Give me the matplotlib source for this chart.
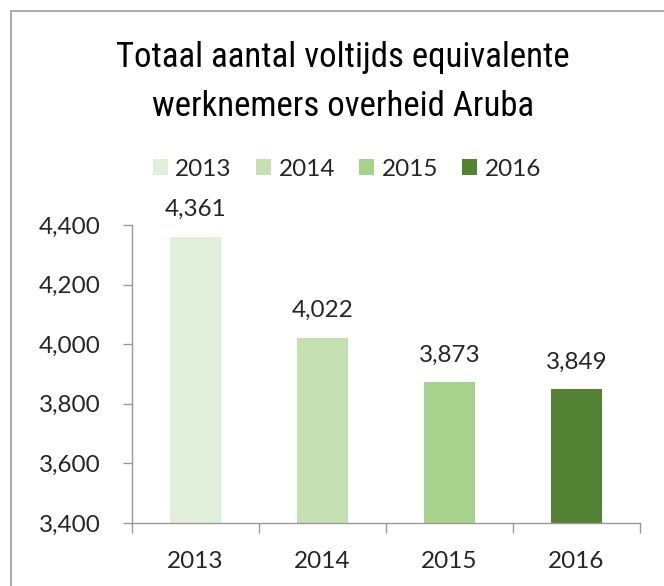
import matplotlib.pyplot as plt
from matplotlib import font_manager
from matplotlib.patches import Rectangle
from matplotlib.ticker import FuncFormatter, FixedLocator

years = ["2013", "2014", "2015", "2016"]
values = [4361, 4022, 3873, 3849]
colors = ["#e2efda", "#c6e0b4", "#a9d18e", "#548235"]
yticks = [3400, 3600, 3800, 4000, 4200, 4400]

plt.rcParams['font.family'] = ['Lato', 'DejaVu Sans']

# narrow font for the title, if one is installed
names = {f.name for f in font_manager.fontManager.ttflist}
title_font = "Liberation Sans"
title_size = 21
for cand in ["Liberation Sans Narrow", "Arial Narrow", "Roboto Condensed",
             "Open Sans Condensed", "DejaVu Sans Condensed"]:
    if cand in names:
        title_font = cand
        title_size = 25
        break

fig = plt.figure(figsize=(6.64, 5.86), dpi=100)
ax = fig.add_axes([132 / 664, 63 / 586, 508 / 664, 298 / 586])

x = list(range(len(years)))
bars = ax.bar(x, values, width=0.4, color=colors, label=years, zorder=2)

for xi, v in zip(x, values):
    ax.annotate(f"{v:,}", (xi, v), xytext=(0, 12), textcoords="offset points",
                ha="center", va="bottom", fontsize=17.5, color="#262626")

ax.set_ylim(3400, 4400)
ax.set_xlim(-0.5, 3.5)
ax.set_yticks(yticks)
ax.yaxis.set_major_formatter(FuncFormatter(lambda v, p: f"{int(v):,}"))
ax.set_xticks(x)
ax.set_xticklabels(years)
ax.xaxis.set_minor_locator(FixedLocator([-0.5, 0.5, 1.5, 2.5, 3.5]))

for s in ["top", "right"]:
    ax.spines[s].set_visible(False)
for s in ["left", "bottom"]:
    ax.spines[s].set_color("#999999")
    ax.spines[s].set_linewidth(1)

ax.tick_params(axis="y", colors="#999999", labelcolor="#262626", labelsize=17.5,
               length=6.5, width=1, pad=16)
ax.tick_params(axis="x", which="major", length=0, labelsize=17.5,
               labelcolor="#262626", pad=20)
ax.tick_params(axis="x", which="minor", length=7, width=1, colors="#999999")

fig.text(343 / 664, 1 - 67 / 586, "Totaal aantal voltijds equivalente",
         ha="center", va="baseline", fontsize=title_size,
         family=[title_font, "DejaVu Sans"])
fig.text(343 / 664, 1 - 116 / 586, "werknemers overheid Aruba",
         ha="center", va="baseline", fontsize=title_size,
         family=[title_font, "DejaVu Sans"])

fig.legend(handles=list(bars), labels=years, loc="center",
           bbox_to_anchor=(347 / 664, 1 - 169 / 586), ncol=4, frameon=False,
           fontsize=17.5, handlelength=0.62, handleheight=0.62,
           handletextpad=0.3, columnspacing=1.0, labelcolor="#262626")

fig.patches.append(Rectangle((11 / 664, -0.1), 1.2, 1.1 - 11 / 586,
                             transform=fig.transFigure, fill=False,
                             edgecolor="#a0a0a0", linewidth=1.2))

fig.savefig("out.png", dpi=100)
